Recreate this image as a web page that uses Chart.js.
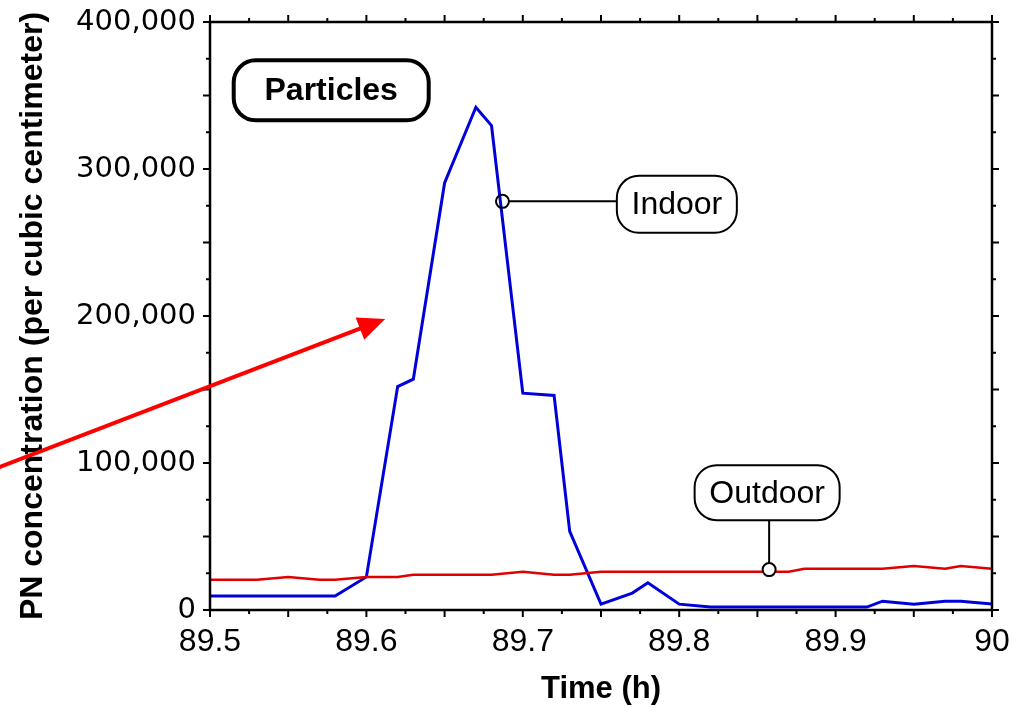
<!DOCTYPE html>
<html>
<head>
<meta charset="utf-8">
<script src="https://cdn.jsdelivr.net/npm/chart.js@4/dist/chart.umd.min.js"></script>
<style>
  body { margin: 0; background: #fff; }
  canvas { display: block; }
</style>
</head>
<body>
<canvas id="pn" width="1028" height="708"></canvas>
<script>
// time in hours, particle number per cubic centimeter
const indoorTime = [89.50, 89.58, 89.60, 89.62, 89.63, 89.65, 89.67, 89.68, 89.70, 89.72, 89.73, 89.75, 89.77, 89.78, 89.80, 89.82, 89.92, 89.93, 89.95, 89.97, 89.98, 90.00];
const indoorPN = [9500, 9500, 22500, 152000, 157000, 290500, 342000, 329500, 147500, 146000, 53500, 4000, 11500, 18500, 4000, 2000, 2000, 6000, 4000, 6000, 6000, 4000];

const outdoorTime = [89.50, 89.53, 89.55, 89.57, 89.58, 89.60, 89.62, 89.63, 89.68, 89.70, 89.72, 89.73, 89.75, 89.87, 89.88, 89.93, 89.95, 89.97, 89.98, 90.00];
const outdoorPN = [20500, 20500, 22500, 20500, 20500, 22500, 22500, 24000, 24000, 26000, 24000, 24000, 26000, 26000, 28000, 28000, 30000, 28000, 30000, 28000];

const xTickValues = [89.5, 89.6, 89.7, 89.8, 89.9, 90];
const xTickLabels = ['89.5', '89.6', '89.7', '89.8', '89.9', '90'];
const yTickValues = [0, 100000, 200000, 300000, 400000];
const yTickLabels = ['0', '100,000', '200,000', '300,000', '400,000'];

const toPoints = (xs, ys) => xs.map((t, i) => ({ x: t, y: ys[i] }));

function roundBox(ctx, x, y, w, h, r) {
  ctx.beginPath();
  ctx.moveTo(x + r, y);
  ctx.arcTo(x + w, y, x + w, y + h, r);
  ctx.arcTo(x + w, y + h, x, y + h, r);
  ctx.arcTo(x, y + h, x, y, r);
  ctx.arcTo(x, y, x + w, y, r);
  ctx.closePath();
}

function label(ctx, cx, cy, w, h, text, font, border) {
  roundBox(ctx, cx - w / 2, cy - h / 2, w, h, 22);
  ctx.fillStyle = '#fff';
  ctx.fill();
  ctx.lineWidth = border;
  ctx.strokeStyle = '#000';
  ctx.stroke();
  ctx.fillStyle = '#000';
  ctx.font = font;
  ctx.textAlign = 'center';
  ctx.textBaseline = 'middle';
  ctx.fillText(text, cx, cy + 1);
}

// frame with minor/major ticks, labels and the red arrow
const decorations = {
  id: 'decorations',
  afterDraw(chart) {
    const { ctx, chartArea: a, scales: { x, y } } = chart;
    const seg = (x1, y1, x2, y2) => {
      ctx.beginPath();
      ctx.moveTo(x1, y1);
      ctx.lineTo(x2, y2);
      ctx.stroke();
    };
    ctx.save();
    ctx.strokeStyle = '#000';
    ctx.lineWidth = 2.5;
    ctx.strokeRect(a.left, a.top, a.right - a.left, a.bottom - a.top);

    ctx.lineWidth = 2;
    for (let i = 0; i <= 20; i++) {
      const px = x.getPixelForValue(89.5 + i * 0.025);
      const len = i % 2 === 0 ? 7 : 4;
      seg(px, a.bottom, px, a.bottom + len);
      seg(px, a.top, px, a.top - len);
    }
    for (let i = 0; i <= 16; i++) {
      const py = y.getPixelForValue(i * 25000);
      const len = i % 2 === 0 ? 7 : 4;
      seg(a.left, py, a.left - len, py);
      seg(a.right, py, a.right + len, py);
    }

    // arrow pointing at the start of the indoor peak
    const tx = x.getPixelForValue(89.35), ty = y.getPixelForValue(91000);
    const hx = x.getPixelForValue(89.612), hy = y.getPixelForValue(198000);
    const ang = Math.atan2(hy - ty, hx - tx);
    const headLen = 27, headW = 12;
    const bx = hx - headLen * Math.cos(ang), by = hy - headLen * Math.sin(ang);
    ctx.strokeStyle = '#ff0000';
    ctx.fillStyle = '#ff0000';
    ctx.lineWidth = 4;
    seg(tx, ty, bx + 2 * Math.cos(ang), by + 2 * Math.sin(ang));
    ctx.beginPath();
    ctx.moveTo(hx, hy);
    ctx.lineTo(bx - headW * Math.sin(ang), by + headW * Math.cos(ang));
    ctx.lineTo(bx + headW * Math.sin(ang), by - headW * Math.cos(ang));
    ctx.closePath();
    ctx.fill();

    // "Particles" title box
    label(ctx, x.getPixelForValue(89.5775), y.getPixelForValue(353500), 195, 60,
      'Particles', 'bold 32px "Liberation Sans", Arial, sans-serif', 4);

    // Indoor callout
    const ix = x.getPixelForValue(89.687), iy = y.getPixelForValue(278000);
    const ibx = x.getPixelForValue(89.7985);
    ctx.strokeStyle = '#000';
    ctx.lineWidth = 2;
    seg(ix + 6.5, iy, ibx - 60, iy);
    ctx.beginPath();
    ctx.arc(ix, iy, 6.5, 0, Math.PI * 2);
    ctx.stroke();
    label(ctx, ibx, iy + 3, 120, 57, 'Indoor', '32px "Liberation Sans", Arial, sans-serif', 2);

    // Outdoor callout
    const ox = x.getPixelForValue(89.8575), oy = y.getPixelForValue(27500);
    const oby = y.getPixelForValue(79800);
    ctx.strokeStyle = '#000';
    ctx.lineWidth = 2;
    seg(ox, oby + 27, ox, oy - 6.5);
    ctx.beginPath();
    ctx.arc(ox, oy, 6.5, 0, Math.PI * 2);
    ctx.fillStyle = '#fff';
    ctx.fill();
    ctx.stroke();
    label(ctx, ox - 2, oby, 145, 55, 'Outdoor', '32px "Liberation Sans", Arial, sans-serif', 2);
    ctx.restore();
  }
};

new Chart(document.getElementById('pn'), {
  type: 'line',
  data: {
    datasets: [{
      label: 'Outdoor',
      data: toPoints(outdoorTime, outdoorPN),
      borderColor: '#e00000',
      borderWidth: 2.5,
      pointRadius: 0,
      tension: 0
    }, {
      label: 'Indoor',
      data: toPoints(indoorTime, indoorPN),
      borderColor: '#0000d8',
      borderWidth: 3,
      pointRadius: 0,
      tension: 0
    }]
  },
  options: {
    responsive: false,
    animation: false,
    layout: { padding: { top: 22, right: 36, left: 0, bottom: 0 } },
    plugins: {
      legend: { display: false },
      tooltip: { enabled: false }
    },
    scales: {
      x: {
        type: 'linear',
        min: 89.5,
        max: 90,
        afterFit: s => { s.height = 98; s.paddingLeft = 0; s.paddingRight = 0; },
        afterBuildTicks: s => { s.ticks = xTickValues.map(v => ({ value: v })); },
        grid: { display: false, drawTicks: false },
        border: { display: false },
        ticks: {
          padding: 13,
          color: '#000',
          maxRotation: 0,
          autoSkip: false,
          font: { family: '"Liberation Sans", Arial, sans-serif', size: 32 },
          callback: (v, i) => xTickLabels[i]
        },
        title: {
          display: true,
          text: 'Time (h)',
          color: '#000',
          padding: { top: 1, bottom: 0 },
          font: { family: '"Liberation Sans", Arial, sans-serif', size: 31, weight: 'bold' }
        }
      },
      y: {
        min: 0,
        max: 400000,
        afterFit: s => { s.width = 210; s.paddingTop = 0; s.paddingBottom = 0; },
        afterBuildTicks: s => { s.ticks = yTickValues.map(v => ({ value: v })); },
        grid: { display: false, drawTicks: false },
        border: { display: false },
        ticks: {
          padding: 14,
          color: '#000',
          autoSkip: false,
          font: { family: '"DejaVu Sans", Verdana, sans-serif', size: 29 },
          callback: (v, i) => yTickLabels[i]
        },
        title: {
          display: true,
          text: 'PN concentration (per cubic centimeter)',
          color: '#000',
          padding: { top: 14, bottom: 0 },
          font: { family: '"Liberation Sans", Arial, sans-serif', size: 32, weight: 'bold' }
        }
      }
    }
  },
  plugins: [decorations]
});
</script>
</body>
</html>
